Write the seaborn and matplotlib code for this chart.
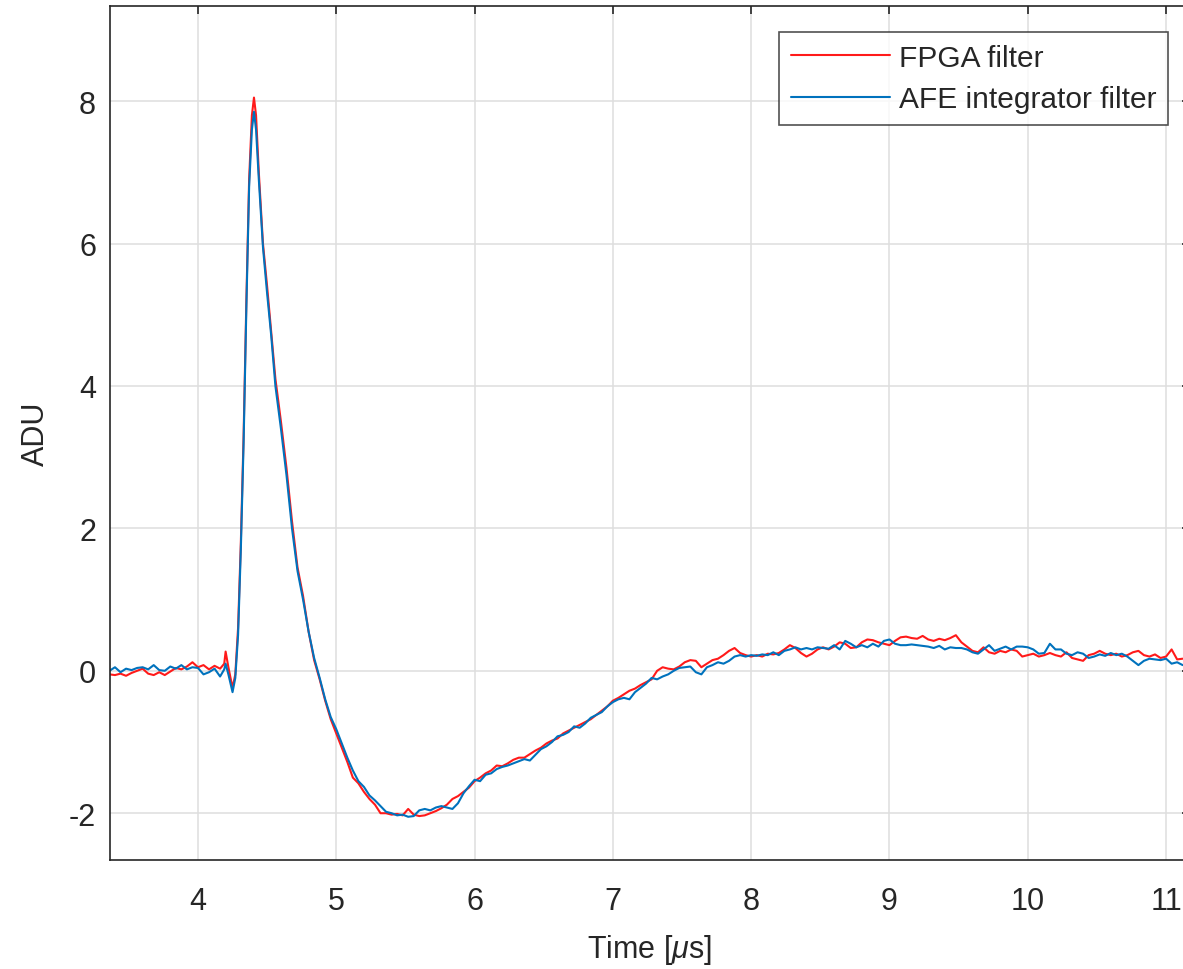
import numpy as np
import pandas as pd
import seaborn as sns
import matplotlib.pyplot as plt

# time axis (us) shared by both filters
time_us = [3.36, 3.40, 3.44, 3.48, 3.52, 3.56, 3.60, 3.64, 3.68, 3.72, 3.76, 3.80, 3.84, 3.88,
           3.92, 3.96, 4.00, 4.04, 4.08, 4.12, 4.16, 4.19, 4.20, 4.22, 4.25, 4.27, 4.29, 4.31,
           4.33, 4.35, 4.37, 4.39, 4.405, 4.42, 4.44, 4.47, 4.50, 4.53, 4.56, 4.60, 4.64, 4.68,
           4.72, 4.76, 4.80, 4.84, 4.88, 4.92, 4.96, 5.00, 5.04, 5.08, 5.12, 5.16, 5.20, 5.24,
           5.28, 5.32, 5.36, 5.40, 5.44, 5.48, 5.52, 5.56, 5.60, 5.64, 5.68, 5.72, 5.76, 5.80,
           5.84, 5.88, 5.92, 5.96, 6.00, 6.04, 6.08, 6.12, 6.16, 6.20, 6.24, 6.28, 6.32, 6.36,
           6.40, 6.44, 6.48, 6.52, 6.56, 6.60, 6.64, 6.68, 6.72, 6.76, 6.80, 6.84, 6.88, 6.92,
           6.96, 7.00, 7.04, 7.08, 7.12, 7.16, 7.20, 7.24, 7.28, 7.32, 7.36, 7.40, 7.44, 7.48,
           7.52, 7.56, 7.60, 7.64, 7.68, 7.72, 7.76, 7.80, 7.84, 7.88, 7.92, 7.96, 8.00, 8.04,
           8.08, 8.12, 8.16, 8.20, 8.24, 8.28, 8.32, 8.36, 8.40, 8.44, 8.48, 8.52, 8.56, 8.60,
           8.64, 8.68, 8.72, 8.76, 8.80, 8.84, 8.88, 8.92, 8.96, 9.00, 9.04, 9.08, 9.12, 9.16,
           9.20, 9.24, 9.28, 9.32, 9.36, 9.40, 9.44, 9.48, 9.52, 9.56, 9.60, 9.64, 9.68, 9.72,
           9.76, 9.80, 9.84, 9.88, 9.92, 9.96, 10.00, 10.04, 10.08, 10.12, 10.16, 10.20, 10.24,
           10.28, 10.32, 10.36, 10.40, 10.44, 10.48, 10.52, 10.56, 10.60, 10.64, 10.68, 10.72,
           10.76, 10.80, 10.84, 10.88, 10.92, 10.96, 11.00, 11.04, 11.08, 11.12]

fpga = [-0.05, -0.06, -0.04, -0.07, -0.03, 0.00, 0.03, -0.04, -0.06, -0.02, -0.06, -0.01, 0.04,
        0.02, 0.06, 0.12, 0.05, 0.08, 0.02, 0.07, 0.03, 0.10, 0.27, 0.05, -0.24, -0.05, 0.6, 1.8,
        3.3, 5.2, 6.9, 7.8, 8.05, 7.8, 7.0, 6.0, 5.4, 4.75, 4.1, 3.5, 2.85, 2.1,
        1.45, 1.05, 0.55, 0.15, -0.12, -0.42, -0.68, -0.88, -1.08, -1.28, -1.5, -1.58, -1.70, -1.80,
        -1.88, -2.00, -2.00, -2.02, -2.01, -2.03, -1.94, -2.02, -2.04, -2.03, -2.00, -1.97, -1.93, -1.88,
        -1.80, -1.76, -1.70, -1.64, -1.55, -1.50, -1.44, -1.40, -1.33, -1.34, -1.30, -1.25, -1.22, -1.22,
        -1.17, -1.12, -1.08, -1.02, -0.98, -0.95, -0.88, -0.84, -0.80, -0.76, -0.72, -0.68, -0.62, -0.56,
        -0.50, -0.42, -0.38, -0.33, -0.28, -0.25, -0.20, -0.16, -0.12, 0.00, 0.05, 0.03, 0.02, 0.06,
        0.12, 0.15, 0.14, 0.05, 0.10, 0.15, 0.17, 0.22, 0.28, 0.32, 0.25, 0.22, 0.20, 0.22,
        0.20, 0.24, 0.23, 0.25, 0.30, 0.36, 0.32, 0.25, 0.20, 0.24, 0.30, 0.33, 0.30, 0.34,
        0.40, 0.38, 0.32, 0.33, 0.40, 0.44, 0.43, 0.40, 0.38, 0.36, 0.42, 0.47, 0.48, 0.46,
        0.45, 0.49, 0.44, 0.42, 0.45, 0.43, 0.46, 0.50, 0.40, 0.34, 0.28, 0.26, 0.33, 0.26,
        0.24, 0.28, 0.26, 0.30, 0.28, 0.20, 0.22, 0.24, 0.20, 0.22, 0.25, 0.22, 0.20,
        0.26, 0.18, 0.16, 0.14, 0.22, 0.24, 0.28, 0.24, 0.22, 0.24, 0.20, 0.22,
        0.26, 0.28, 0.22, 0.20, 0.23, 0.18, 0.20, 0.30, 0.16, 0.17]

afe = [0.00, 0.05, -0.02, 0.03, 0.01, 0.04, 0.05, 0.02, 0.08, 0.01, 0.00, 0.06, 0.03,
       0.08, 0.02, 0.05, 0.04, -0.05, -0.02, 0.03, -0.08, 0.02, 0.10, -0.05, -0.30, -0.10, 0.5, 1.7,
       3.2, 5.1, 6.8, 7.6, 7.85, 7.6, 6.9, 5.95, 5.3, 4.7, 4.0, 3.4, 2.75, 2.0,
       1.4, 1.0, 0.55, 0.18, -0.10, -0.40, -0.65, -0.82, -1.02, -1.22, -1.4, -1.55, -1.63, -1.75,
       -1.82, -1.90, -1.98, -2.00, -2.03, -2.02, -2.05, -2.04, -1.96, -1.94, -1.96, -1.92, -1.90, -1.92,
       -1.94, -1.86, -1.72, -1.62, -1.53, -1.55, -1.46, -1.44, -1.38, -1.35, -1.33, -1.30, -1.27, -1.24,
       -1.26, -1.18, -1.10, -1.06, -1.00, -0.92, -0.90, -0.86, -0.78, -0.80, -0.74, -0.66, -0.62, -0.58,
       -0.50, -0.44, -0.40, -0.38, -0.40, -0.30, -0.24, -0.18, -0.10, -0.12, -0.08, -0.05, 0.00, 0.04,
       0.05, 0.06, -0.02, -0.05, 0.05, 0.08, 0.12, 0.10, 0.14, 0.20, 0.22, 0.20, 0.22, 0.21,
       0.23, 0.22, 0.26, 0.22, 0.28, 0.30, 0.33, 0.30, 0.32, 0.30, 0.33, 0.32, 0.31, 0.36,
       0.30, 0.42, 0.38, 0.33, 0.36, 0.33, 0.38, 0.34, 0.42, 0.44, 0.38, 0.36, 0.36, 0.37,
       0.36, 0.35, 0.34, 0.32, 0.35, 0.30, 0.33, 0.32, 0.32, 0.30, 0.26, 0.24, 0.30, 0.36,
       0.28, 0.31, 0.34, 0.30, 0.34, 0.34, 0.33, 0.30, 0.24, 0.25, 0.38, 0.30, 0.30,
       0.24, 0.22, 0.26, 0.24, 0.18, 0.20, 0.23, 0.21, 0.25, 0.22, 0.24, 0.20,
       0.14, 0.08, 0.14, 0.17, 0.16, 0.15, 0.17, 0.10, 0.12, 0.08]

labels = ['FPGA filter', 'AFE integrator filter']
colors = {'FPGA filter': '#FF1A1A', 'AFE integrator filter': '#0072BD'}

df = pd.concat([
    pd.DataFrame({'t': time_us, 'adu': fpga, 'filter': labels[0]}),
    pd.DataFrame({'t': time_us, 'adu': afe, 'filter': labels[1]}),
])

sns.set_style('white')
plt.rcParams['font.family'] = ['Liberation Sans', 'DejaVu Sans']
plt.rcParams['mathtext.fontset'] = 'custom'
plt.rcParams['mathtext.it'] = 'Liberation Sans:italic'
plt.rcParams['mathtext.rm'] = 'Liberation Sans'
plt.rcParams['axes.unicode_minus'] = False
txt = '#262626'
fs = 22

fig = plt.figure(figsize=(11.83, 9.70), dpi=100)
# axes runs slightly past the right edge, as in the reference crop
ax = fig.add_axes([110 / 1183, 109 / 970, 1080 / 1183, 854 / 970])

sns.lineplot(data=df, x='t', y='adu', hue='filter', palette=colors, hue_order=labels,
             estimator=None, sort=False, linewidth=1.5, ax=ax)

ax.set_xlim(3.364, 11.173)
ax.set_ylim(-2.657, 9.336)
ax.set_xticks(range(4, 12))
ax.set_yticks([-2, 0, 2, 4, 6, 8])
ax.grid(True, color='#dedede', linewidth=1.1)
ax.set_axisbelow(True)
ax.tick_params(direction='in', length=6, width=1.2, colors=txt, labelsize=fs,
               top=True, right=True)
ax.tick_params(axis='x', pad=19)
ax.tick_params(axis='y', pad=10)
for s in ax.spines.values():
    s.set_color(txt)
    s.set_linewidth(1.2)

ax.set_xlabel(r'Time [$\mu$s]', fontsize=fs, color=txt, labelpad=11)
ax.set_ylabel('ADU', fontsize=fs, color=txt, labelpad=13)

leg = ax.legend(loc='upper right', bbox_to_anchor=(1168 / 1183, 1 - 33 / 970),
                bbox_transform=fig.transFigure, borderaxespad=0, fontsize=fs - 0.5,
                frameon=True, fancybox=False, handlelength=3.3, handletextpad=0.3,
                labelspacing=0.45, borderpad=0.4)
leg.get_frame().set_edgecolor(txt)
leg.get_frame().set_linewidth(1.2)
for t in leg.get_texts():
    t.set_color(txt)
for h in leg.get_lines():
    h.set_linewidth(1.5)

fig.savefig('out.png', dpi=100)
